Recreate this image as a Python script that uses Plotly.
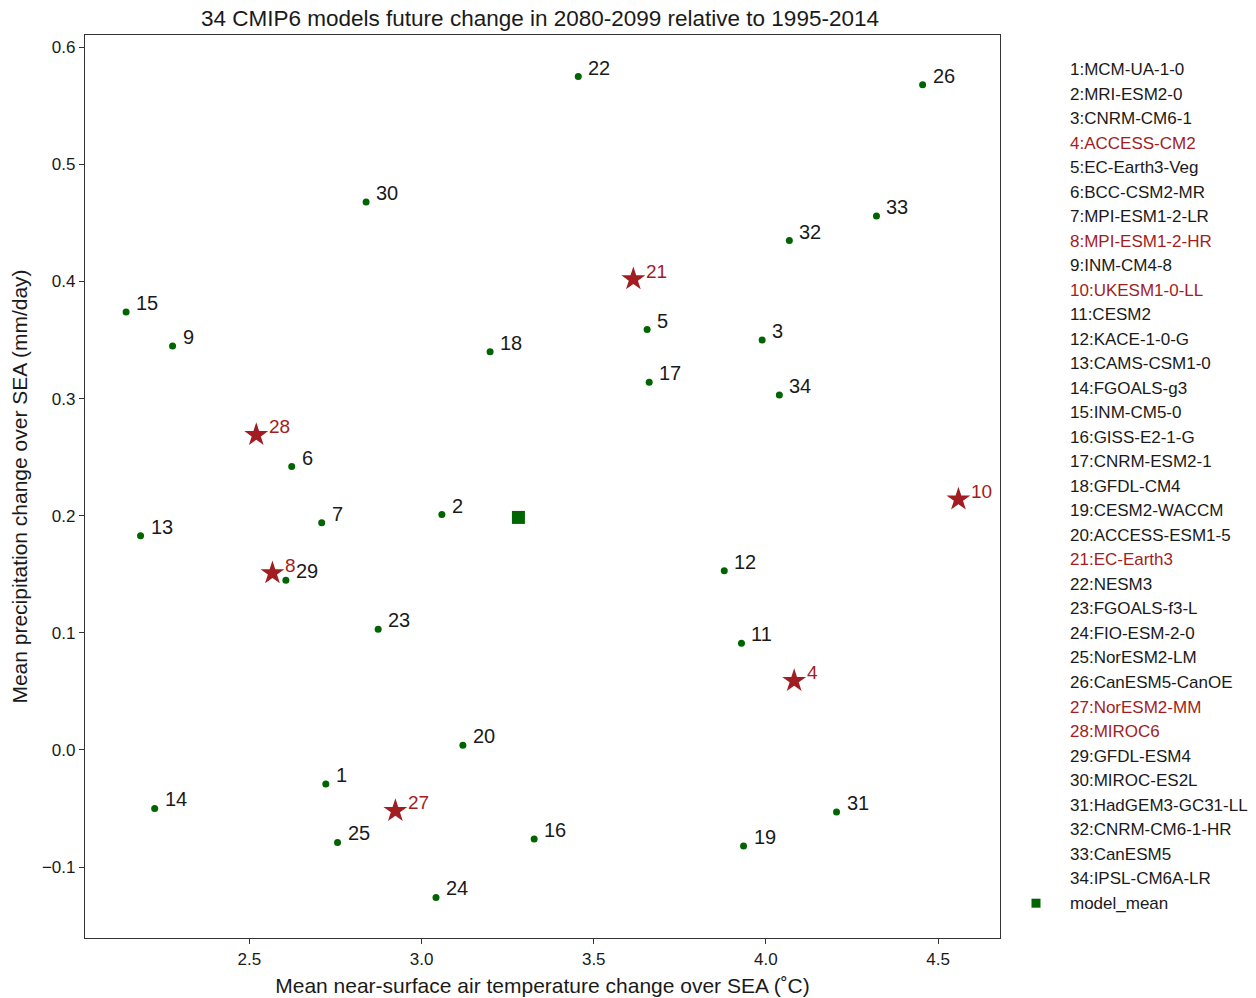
import numpy as np
import plotly.graph_objects as go

# CMIP6 models (index : name)
model_names = [
    "MCM-UA-1-0", "MRI-ESM2-0", "CNRM-CM6-1", "ACCESS-CM2", "EC-Earth3-Veg",
    "BCC-CSM2-MR", "MPI-ESM1-2-LR", "MPI-ESM1-2-HR", "INM-CM4-8", "UKESM1-0-LL",
    "CESM2", "KACE-1-0-G", "CAMS-CSM1-0", "FGOALS-g3", "INM-CM5-0",
    "GISS-E2-1-G", "CNRM-ESM2-1", "GFDL-CM4", "CESM2-WACCM", "ACCESS-ESM1-5",
    "EC-Earth3", "NESM3", "FGOALS-f3-L", "FIO-ESM-2-0", "NorESM2-LM",
    "CanESM5-CanOE", "NorESM2-MM", "MIROC6", "GFDL-ESM4", "MIROC-ES2L",
    "HadGEM3-GC31-LL", "CNRM-CM6-1-HR", "CanESM5", "IPSL-CM6A-LR",
]

# Mean near-surface air temperature change over SEA (degC)
temp_change = [
    2.722, 3.059, 3.989, 4.082, 3.655, 2.623, 2.710, 2.567, 2.277, 4.559,
    3.929, 3.879, 2.184, 2.225, 2.142, 3.327, 3.661, 3.199, 3.935, 3.120,
    3.615, 3.455, 2.874, 3.042, 2.756, 4.455, 2.924, 2.520, 2.606, 2.839,
    4.205, 4.068, 4.321, 4.039,
]

# Mean precipitation change over SEA (mm/day)
precip_change = [
    -0.029, 0.201, 0.350, 0.059, 0.359, 0.242, 0.194, 0.151, 0.345, 0.214,
    0.091, 0.153, 0.183, -0.050, 0.374, -0.076, 0.314, 0.340, -0.082, 0.004,
    0.402, 0.575, 0.103, -0.126, -0.079, 0.568, -0.052, 0.269, 0.145, 0.468,
    -0.053, 0.435, 0.456, 0.303,
]

# Models highlighted with stars
selected_models = [4, 8, 10, 21, 27, 28]

x_ticks = [2.5, 3.0, 3.5, 4.0, 4.5]
y_ticks = [-0.1, 0.0, 0.1, 0.2, 0.3, 0.4, 0.5, 0.6]

GREEN = "#006400"
RED = "#a21d22"
TEXT = "#1a1a1a"
FONT = "Liberation Sans, Arial, sans-serif"

ids = np.arange(1, len(model_names) + 1)
tx = np.array(temp_change)
pr = np.array(precip_change)
sel = np.isin(ids, selected_models)

fig = go.Figure()

fig.add_trace(go.Scatter(
    x=tx[~sel], y=pr[~sel], mode="markers",
    marker=dict(color=GREEN, size=7, symbol="circle"),
    showlegend=False, hoverinfo="text",
    text=[f"{i}:{model_names[i-1]}" for i in ids[~sel]],
))
fig.add_trace(go.Scatter(
    x=tx[sel], y=pr[sel], mode="markers",
    marker=dict(color=RED, size=18, symbol="star", line=dict(width=0)),
    showlegend=False, hoverinfo="text",
    text=[f"{i}:{model_names[i-1]}" for i in ids[sel]],
))
fig.add_trace(go.Scatter(
    x=[tx.mean()], y=[pr.mean()], mode="markers",
    marker=dict(color=GREEN, size=13, symbol="square"),
    name="model_mean", showlegend=False,
))

# plot area in pixels
L, R, T, B = 85, 256, 35, 60
W, H = 1256, 998
plot_w = W - L - R
plot_top, plot_bot = float(T), float(H - B)
plot_h = plot_bot - plot_top


def px_to_paper_x(px):
    return (px - L) / plot_w


def px_to_paper_y(py):
    return (plot_bot - py) / plot_h


annotations = []
# numeric labels next to each model marker
for i, xv, yv, s in zip(ids, tx, pr, sel):
    annotations.append(dict(
        x=xv, y=yv, xref="x", yref="y", text=str(i), showarrow=False,
        xanchor="left", yanchor="middle",
        xshift=11 if s else 8, yshift=8 if s else 9,
        font=dict(family=FONT, size=19 if s else 20, color=RED if s else TEXT),
    ))

# model list on the right
row0, row_step = 69.5, 24.52
for k, name in enumerate(model_names):
    py = row0 + k * row_step
    annotations.append(dict(
        x=px_to_paper_x(1068), y=px_to_paper_y(py),
        xref="paper", yref="paper", text=f"{k+1}:{name}", showarrow=False,
        xanchor="left", yanchor="middle",
        font=dict(family=FONT, size=17,
                  color=RED if (k + 1) in selected_models else TEXT),
    ))
py_mean = row0 + len(model_names) * row_step
annotations.append(dict(
    x=px_to_paper_x(1068), y=px_to_paper_y(py_mean),
    xref="paper", yref="paper", text="model_mean", showarrow=False,
    xanchor="left", yanchor="middle",
    font=dict(family=FONT, size=17, color=TEXT),
))

fig.update_layout(
    width=W, height=H,
    margin=dict(l=L, r=R, t=T, b=B, autoexpand=False),
    paper_bgcolor="white", plot_bgcolor="white",
    font=dict(family=FONT, color=TEXT),
    title=dict(
        text="34 CMIP6 models future change in 2080-2099 relative to 1995-2014",
        x=540 / W, xanchor="center", y=1 - 18 / H, yanchor="middle",
        font=dict(family=FONT, size=22.5, color=TEXT),
    ),
    annotations=annotations,
    showlegend=False,
)

# legend symbol for model_mean
sq_cx, sq_cy = px_to_paper_x(1036), px_to_paper_y(py_mean)
fig.add_shape(type="rect", xref="paper", yref="paper",
              x0=sq_cx - 4.5 / plot_w, x1=sq_cx + 4.5 / plot_w,
              y0=sq_cy - 4.5 / plot_h, y1=sq_cy + 4.5 / plot_h,
              fillcolor=GREEN, line=dict(width=0))

axis_common = dict(
    showgrid=False, zeroline=False, showline=True, linecolor="#333333",
    linewidth=1.3, mirror=True, ticks="outside", ticklen=5, tickwidth=1,
    tickcolor="#333333", tickfont=dict(family=FONT, size=17, color=TEXT),
    automargin=False,
)
fig.update_xaxes(
    range=[2.0227, 4.6797], tickvals=x_ticks,
    ticktext=[f"{v:.1f}" for v in x_ticks],
    title=dict(text="Mean near-surface air temperature change over SEA (˚C)",
               font=dict(family=FONT, size=21, color=TEXT), standoff=10),
    **axis_common,
)
fig.update_yaxes(
    range=[-0.1606, 0.6105], tickvals=y_ticks,
    ticktext=["\u22120.1" if v < 0 else f"{v:.1f}" for v in y_ticks],
    title=dict(text="Mean precipitation change over SEA (mm/day)",
               font=dict(family=FONT, size=21, color=TEXT), standoff=8),
    **axis_common,
)

fig.write_html("out.html")
